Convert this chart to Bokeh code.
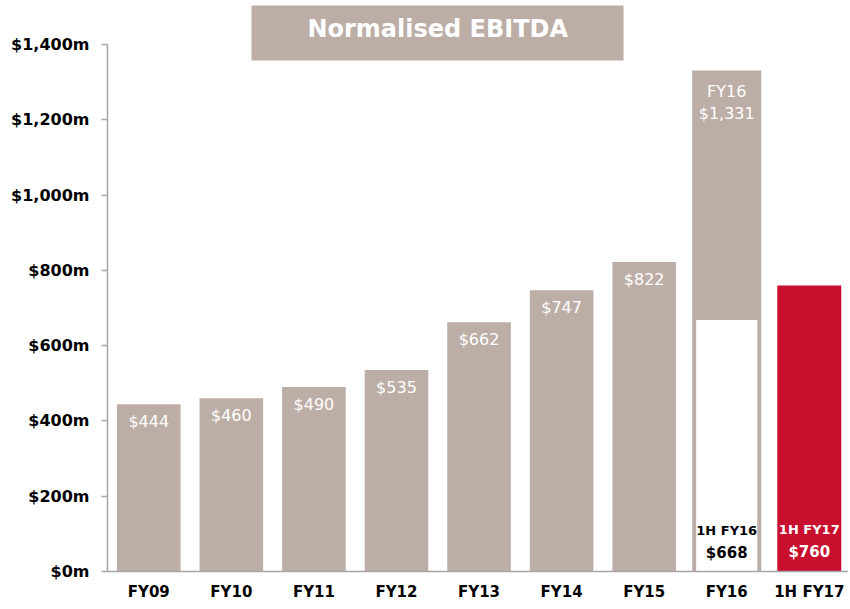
from bokeh.plotting import figure
from bokeh.models import Range1d, FixedTicker
from bokeh.core.properties import value
from bokeh.embed import file_html
from bokeh.resources import INLINE

# ---- data ----
categories = ["FY09", "FY10", "FY11", "FY12", "FY13", "FY14", "FY15", "FY16", "1H FY17"]
ebitda = [444, 460, 490, 535, 662, 747, 822, 1331, 760]
h1_fy16 = 668
y_ticks = [0, 200, 400, 600, 800, 1000, 1200, 1400]
y_tick_labels = ["$" + f"{t:,}" + "m" for t in y_ticks]
title_text = "Normalised EBITDA"

BROWN = "#BCAEA6"
RED = "#C8102E"
AXIS = "#A6A6A6"
FONT = "DejaVu Sans"

xs = [i + 0.5 for i in range(len(categories))]

p = figure(width=848, height=607, output_backend="svg", toolbar_location=None,
           x_range=Range1d(0, 8.975), y_range=Range1d(0, 1503.6),
           min_border_left=107, min_border_right=0, min_border_top=5, min_border_bottom=36)
p.outline_line_color = None
p.xgrid.visible = False
p.ygrid.visible = False
p.background_fill_color = "white"

# regular bars FY09..FY15
reg_x = xs[:7]
reg_top = ebitda[:7]
p.vbar(x=reg_x, top=reg_top, width=0.77, fill_color=BROWN, line_color=None)
# FY16 full year bar with white 1H portion
p.vbar(x=[xs[7]], top=[ebitda[7]], width=0.836, fill_color=BROWN, line_color=None)
p.vbar(x=[xs[7]], top=[h1_fy16], bottom=[0], width=0.74, fill_color="white", line_color=None)
# 1H FY17
p.vbar(x=[xs[8]], top=[ebitda[8]], width=0.775, fill_color=RED, line_color=None)

# value labels inside regular bars
p.text(x=reg_x, y=reg_top, text=["$" + f"{v:,}" for v in reg_top],
       text_color="white", text_font=value(FONT), text_font_size="16px",
       text_align="center", text_baseline="middle", y_offset=17)
# FY16 top labels
p.text(x=[xs[7], xs[7]], y=[ebitda[7], ebitda[7]], text=["FY16", "$" + f"{ebitda[7]:,}"],
       text_color="white", text_font=value(FONT), text_font_size="16px",
       text_align="center", text_baseline="middle", y_offset=[21, 43])
# FY16 1H labels
p.text(x=[xs[7], xs[7]], y=[0, 0], text=["1H FY16", "$" + f"{h1_fy16:,}"],
       text_color="black", text_font=value(FONT), text_font_style="bold", text_font_size=["13px", "15px"],
       text_align="center", text_baseline="middle", y_offset=[-41, -19])
# FY17 labels
p.text(x=[xs[8], xs[8]], y=[0, 0], text=["1H FY17", "$" + f"{ebitda[8]:,}"],
       text_color="white", text_font=value(FONT), text_font_style="bold", text_font_size=["13px", "15px"],
       text_align="center", text_baseline="middle", y_offset=[-42, -20])

# title box
p.quad(left=[1.744], right=[6.25], bottom=[1357.5], top=[1510], fill_color=BROWN, line_color=None)
p.text(x=[4.0], y=[1440], text=[title_text], text_color="white", text_font=value(FONT),
       text_font_style="bold", text_font_size="24px", text_align="center", text_baseline="middle")

# axes
p.xaxis.ticker = FixedTicker(ticks=xs)
p.xaxis.major_label_overrides = {x: c for x, c in zip(xs, categories)}
p.xaxis.major_tick_line_color = None
p.xaxis.minor_tick_line_color = None
p.xaxis.axis_line_color = AXIS
p.xaxis.axis_line_width = 1.5
p.xaxis.major_label_text_font = FONT
p.xaxis.major_label_text_font_style = "bold"
p.xaxis.major_label_text_font_size = "15px"
p.xaxis.major_label_text_color = "black"
p.xaxis.major_label_standoff = 5

p.yaxis.ticker = FixedTicker(ticks=y_ticks)
p.yaxis.major_label_overrides = {t: l for t, l in zip(y_ticks, y_tick_labels)}
p.yaxis.bounds = (0, 1400)
p.yaxis.major_tick_out = 6
p.yaxis.major_tick_in = 0
p.yaxis.minor_tick_line_color = None
p.yaxis.axis_line_color = AXIS
p.yaxis.axis_line_width = 1.5
p.yaxis.major_tick_line_color = AXIS
p.yaxis.major_tick_line_width = 1.5
p.yaxis.major_label_text_font = FONT
p.yaxis.major_label_text_font_style = "bold"
p.yaxis.major_label_text_font_size = "16px"
p.yaxis.major_label_text_color = "black"
p.yaxis.major_label_standoff = 12

open("out.html", "w").write(file_html(p, INLINE))
